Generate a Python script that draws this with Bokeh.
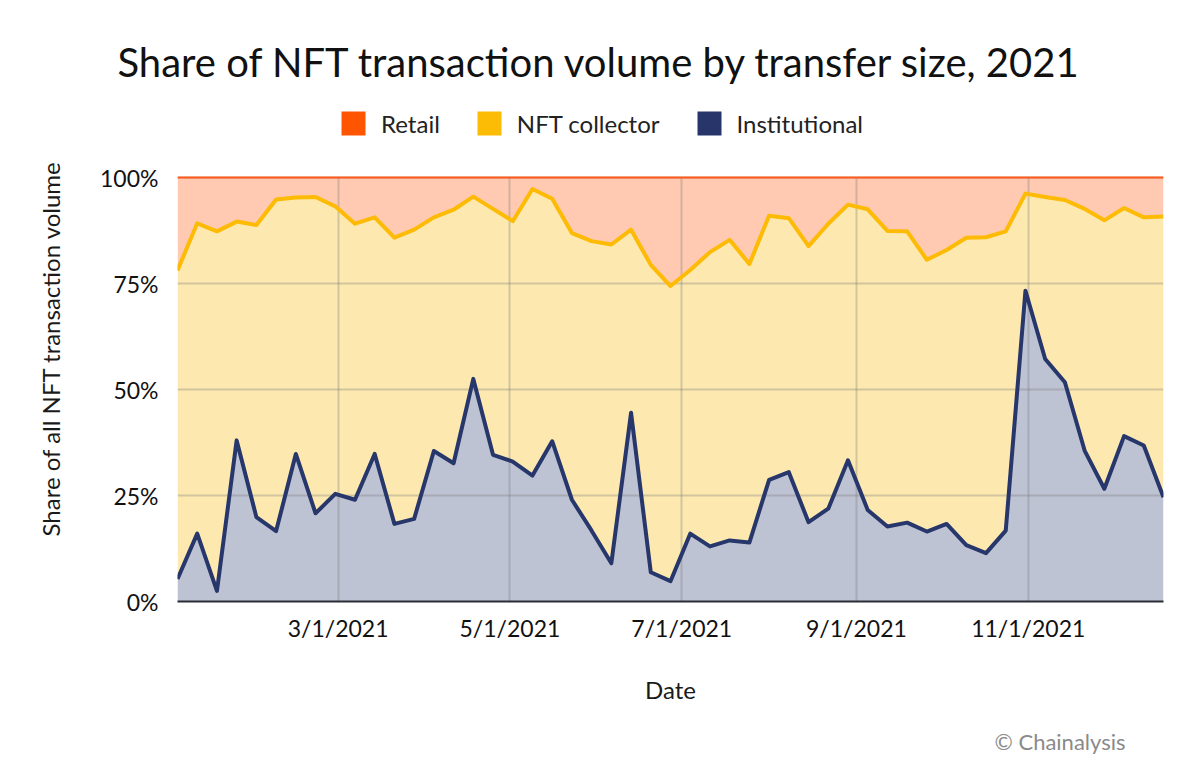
import math
import pandas as pd
from bokeh.plotting import figure
from bokeh.models import (Legend, LegendItem, FixedTicker, NumeralTickFormatter,
                          Range1d, ColumnDataSource, Title, Grid)
from bokeh.embed import file_html
from bokeh.resources import INLINE

# ---------------- data (shares in %) ----------------
dates = pd.date_range("2021-01-03", periods=51, freq="7D")
institutional = [5.3, 16.0, 2.5, 38.0, 19.9, 16.6, 34.8, 20.8, 25.4, 24.0,
                 34.8, 18.3, 19.5, 35.5, 32.6, 52.5, 34.6, 33.0, 29.7, 37.8,
                 24.0, 16.7, 9.0, 44.5, 6.9, 4.8, 16.0, 13.0, 14.4, 13.9,
                 28.7, 30.5, 18.7, 21.9, 33.3, 21.6, 17.7, 18.6, 16.5, 18.3,
                 13.3, 11.4, 16.7, 73.3, 57.2, 51.7, 35.6, 26.6, 39.0, 36.8,
                 24.6]
nft_collector = [72.8, 73.2, 84.8, 51.6, 68.9, 78.2, 60.5, 74.6, 67.8, 65.1,
                 55.8, 67.5, 68.2, 55.1, 59.8, 43.0, 58.0, 56.7, 67.6, 57.2,
                 62.9, 68.3, 75.2, 43.2, 72.5, 69.6, 62.2, 69.4, 70.9, 65.7,
                 62.3, 59.9, 65.1, 67.2, 60.3, 70.9, 69.7, 68.7, 64.1, 64.6,
                 72.5, 74.5, 70.6, 22.9, 38.2, 43.0, 57.0, 63.3, 53.8, 53.8,
                 66.2]
retail = [round(100 - a - b, 1) for a, b in zip(institutional, nft_collector)]

series_names = ["Retail", "NFT collector", "Institutional"]
xtick_dates = ["2021-03-01", "2021-05-01", "2021-07-01", "2021-09-01", "2021-11-01"]
xtick_labels = ["3/1/2021", "5/1/2021", "7/1/2021", "9/1/2021", "11/1/2021"]
ytick_values = [0, 0.25, 0.5, 0.75, 1.0]

# ---------------- stacking ----------------
inst_top = [a / 100 for a in institutional]
coll_top = [(a + b) / 100 for a, b in zip(institutional, nft_collector)]
ret_top = [(a + b + c) / 100 for a, b, c in zip(institutional, nft_collector, retail)]
zeros = [0.0] * len(dates)

src = ColumnDataSource(dict(x=dates, zero=zeros, inst=inst_top, coll=coll_top, ret=ret_top))

FONT = "Lato"
W, H = 1184, 776
FL, FT, FR, FB = 177, 95, 1163, 601      # frame edges (canvas px)
Y100 = 177                              # where 100% sits (canvas px)
y_end = 1 + (Y100 - FT) / (FB - Y100)   # frame extends above 100% to hold the legend

p = figure(width=W, height=H, x_axis_type="datetime", output_backend="svg",
           toolbar_location=None, min_border_left=FL, min_border_right=W - FR,
           min_border_top=FT, min_border_bottom=H - FB,
           x_range=Range1d(dates[0], dates[-1]), y_range=Range1d(0, y_end))
p.outline_line_color = None
p.background_fill_color = "white"

# areas (drawn below the grid)
p.varea(x="x", y1="coll", y2="ret", source=src, fill_color="#FFCAB1", level="image")
p.varea(x="x", y1="inst", y2="coll", source=src, fill_color="#FDE9B0", level="image")
p.varea(x="x", y1="zero", y2="inst", source=src, fill_color="#BEC3D3", level="image")

# ticks / grid
xticks_ms = [pd.Timestamp(d).value // 10**6 for d in xtick_dates]
xt = FixedTicker(ticks=xticks_ms)
p.xaxis.ticker = xt
p.xgrid.ticker = xt
p.xaxis.major_label_overrides = {t: l for t, l in zip(xticks_ms, xtick_labels)}
yt = FixedTicker(ticks=ytick_values)
p.yaxis.ticker = yt
p.ygrid.ticker = yt
GRID_COLOR, GRID_ALPHA = "#7a7a7a", 0.32
for g in (p.xgrid, p.ygrid):
    g.grid_line_color = GRID_COLOR
    g.grid_line_alpha = GRID_ALPHA
    g.grid_line_width = 2
if "cross_bounds" in Grid.properties():
    p.xgrid.cross_bounds = (0, 1)
else:
    p.xgrid.grid_line_color = None
    p.segment(x0=[pd.Timestamp(d) for d in xtick_dates], y0=[0] * len(xtick_dates),
              x1=[pd.Timestamp(d) for d in xtick_dates], y1=[1] * len(xtick_dates),
              line_color=GRID_COLOR, line_alpha=GRID_ALPHA, line_width=2, level="underlay")

# lines
p.line(x="x", y="ret", source=src, line_color="#FF5A1A", line_width=2)
p.line(x="x", y="coll", source=src, line_color="#FDBB05", line_width=4, line_join="round")
p.line(x="x", y="inst", source=src, line_color="#27376B", line_width=4, line_join="round")

# axes
p.yaxis.bounds = (0, 1)
p.yaxis.formatter = NumeralTickFormatter(format="0%")
p.yaxis.axis_line_color = None
p.yaxis.major_tick_line_color = None
p.yaxis.minor_tick_line_color = None
p.yaxis.major_label_standoff = 13
p.yaxis.axis_label = "Share of all NFT transaction volume"
p.yaxis.axis_label_standoff = 32
p.xaxis.axis_line_color = "#2b2d36"
p.xaxis.axis_line_width = 2
p.xaxis.major_tick_line_color = None
p.xaxis.minor_tick_line_color = None
p.xaxis.major_label_standoff = 6
p.xaxis.axis_label = "Date"
p.xaxis.axis_label_standoff = 30
for ax in (p.xaxis, p.yaxis):
    ax.major_label_text_font = FONT
    ax.major_label_text_font_size = "23px"
    ax.major_label_text_color = "#111111"
    ax.axis_label_text_font = FONT
    ax.axis_label_text_font_size = "24px"
    ax.axis_label_text_font_style = "normal"
    ax.axis_label_text_color = "#1a1a1a"

# copyright below
p.add_layout(Title(text="© Chainalysis", align="right", offset=38, standoff=38,
                   text_font=FONT, text_font_size="22px", text_color="#8a8a8a",
                   text_font_style="normal"), "below")

# title above the frame
p.add_layout(Title(text="Share of NFT transaction volume by transfer size, 2021",
                   align="left", offset=-60, standoff=20,
                   text_font=FONT, text_font_size="40px", text_color="#111111",
                   text_font_style="normal"), "above")

# legend inside the (extended) frame, above the 100% line
# proxy renderers (one NaN row each, never visible) give the legend its colour swatches
leg_colors = ["#FF5500", "#FCBB05", "#27356B"]
nan = float("nan")
items = []
for name, c in zip(series_names, leg_colors):
    r = p.quad(left=[nan], right=[nan], bottom=[nan], top=[nan],
               fill_color=c, line_color=None)
    items.append(LegendItem(label=name, renderers=[r]))
legend = Legend(items=items, orientation="horizontal", location=(341 - 3 - FL, FB - 138),
                glyph_width=30, glyph_height=30, label_standoff=13, spacing=34,
                padding=0, margin=0, border_line_alpha=0, background_fill_alpha=0,
                label_text_font=FONT, label_text_font_size="24px",
                label_text_color="#222222", label_height=30)
p.add_layout(legend, "center")

open("out.html", "w").write(file_html(p, INLINE))
